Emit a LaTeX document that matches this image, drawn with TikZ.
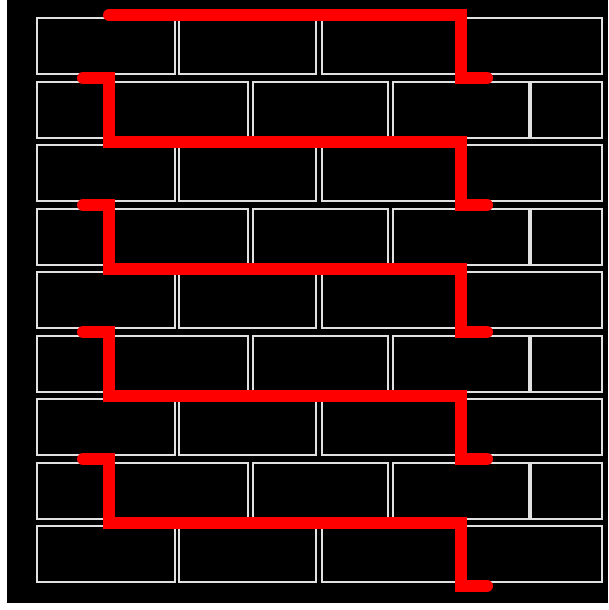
\documentclass[tikz,border=0pt]{standalone}
\usepackage{tikz}
\definecolor{BrickLine}{RGB}{225,225,225}
\definecolor{RouteRed}{RGB}{255,0,0}

\begin{document}
\begin{tikzpicture}[x=1pt, y=-1pt,
  brick/.style={draw=BrickLine, line width=2pt},
  route/.style={draw=RouteRed, line width=12pt, line cap=round, line join=miter},
]
\useasboundingbox (0,0) rectangle (608,610);
% Wall background
\fill[black] (7,0) rectangle (608,603);
% Full rows (four bricks)
\foreach \r in {0,2,4,6,8}{
  \foreach \a/\b in {37/175, 179/316, 322/460, 465/602}
    \draw[brick] (\a,{18+\r*63.5}) rectangle (\b,{74+\r*63.5});
}
% Offset rows
\foreach \r in {1,3,5,7}{
  \foreach \a/\b in {37/106, 111/248, 253/388, 393/529, 531/602}
    \draw[brick] (\a,{18+\r*63.5}) rectangle (\b,{74+\r*63.5});
}
% Red route over the wall
\draw[route] (109,15) -- (461,15) -- (461,78) -- (487,78);
\foreach \k in {1,...,4}
  \draw[route] (83,{78+(\k-1)*127}) -- (109,{78+(\k-1)*127})
    -- (109,{15+\k*127}) -- (461,{15+\k*127})
    -- (461,{78+\k*127}) -- (487,{78+\k*127});
\end{tikzpicture}
\end{document}
